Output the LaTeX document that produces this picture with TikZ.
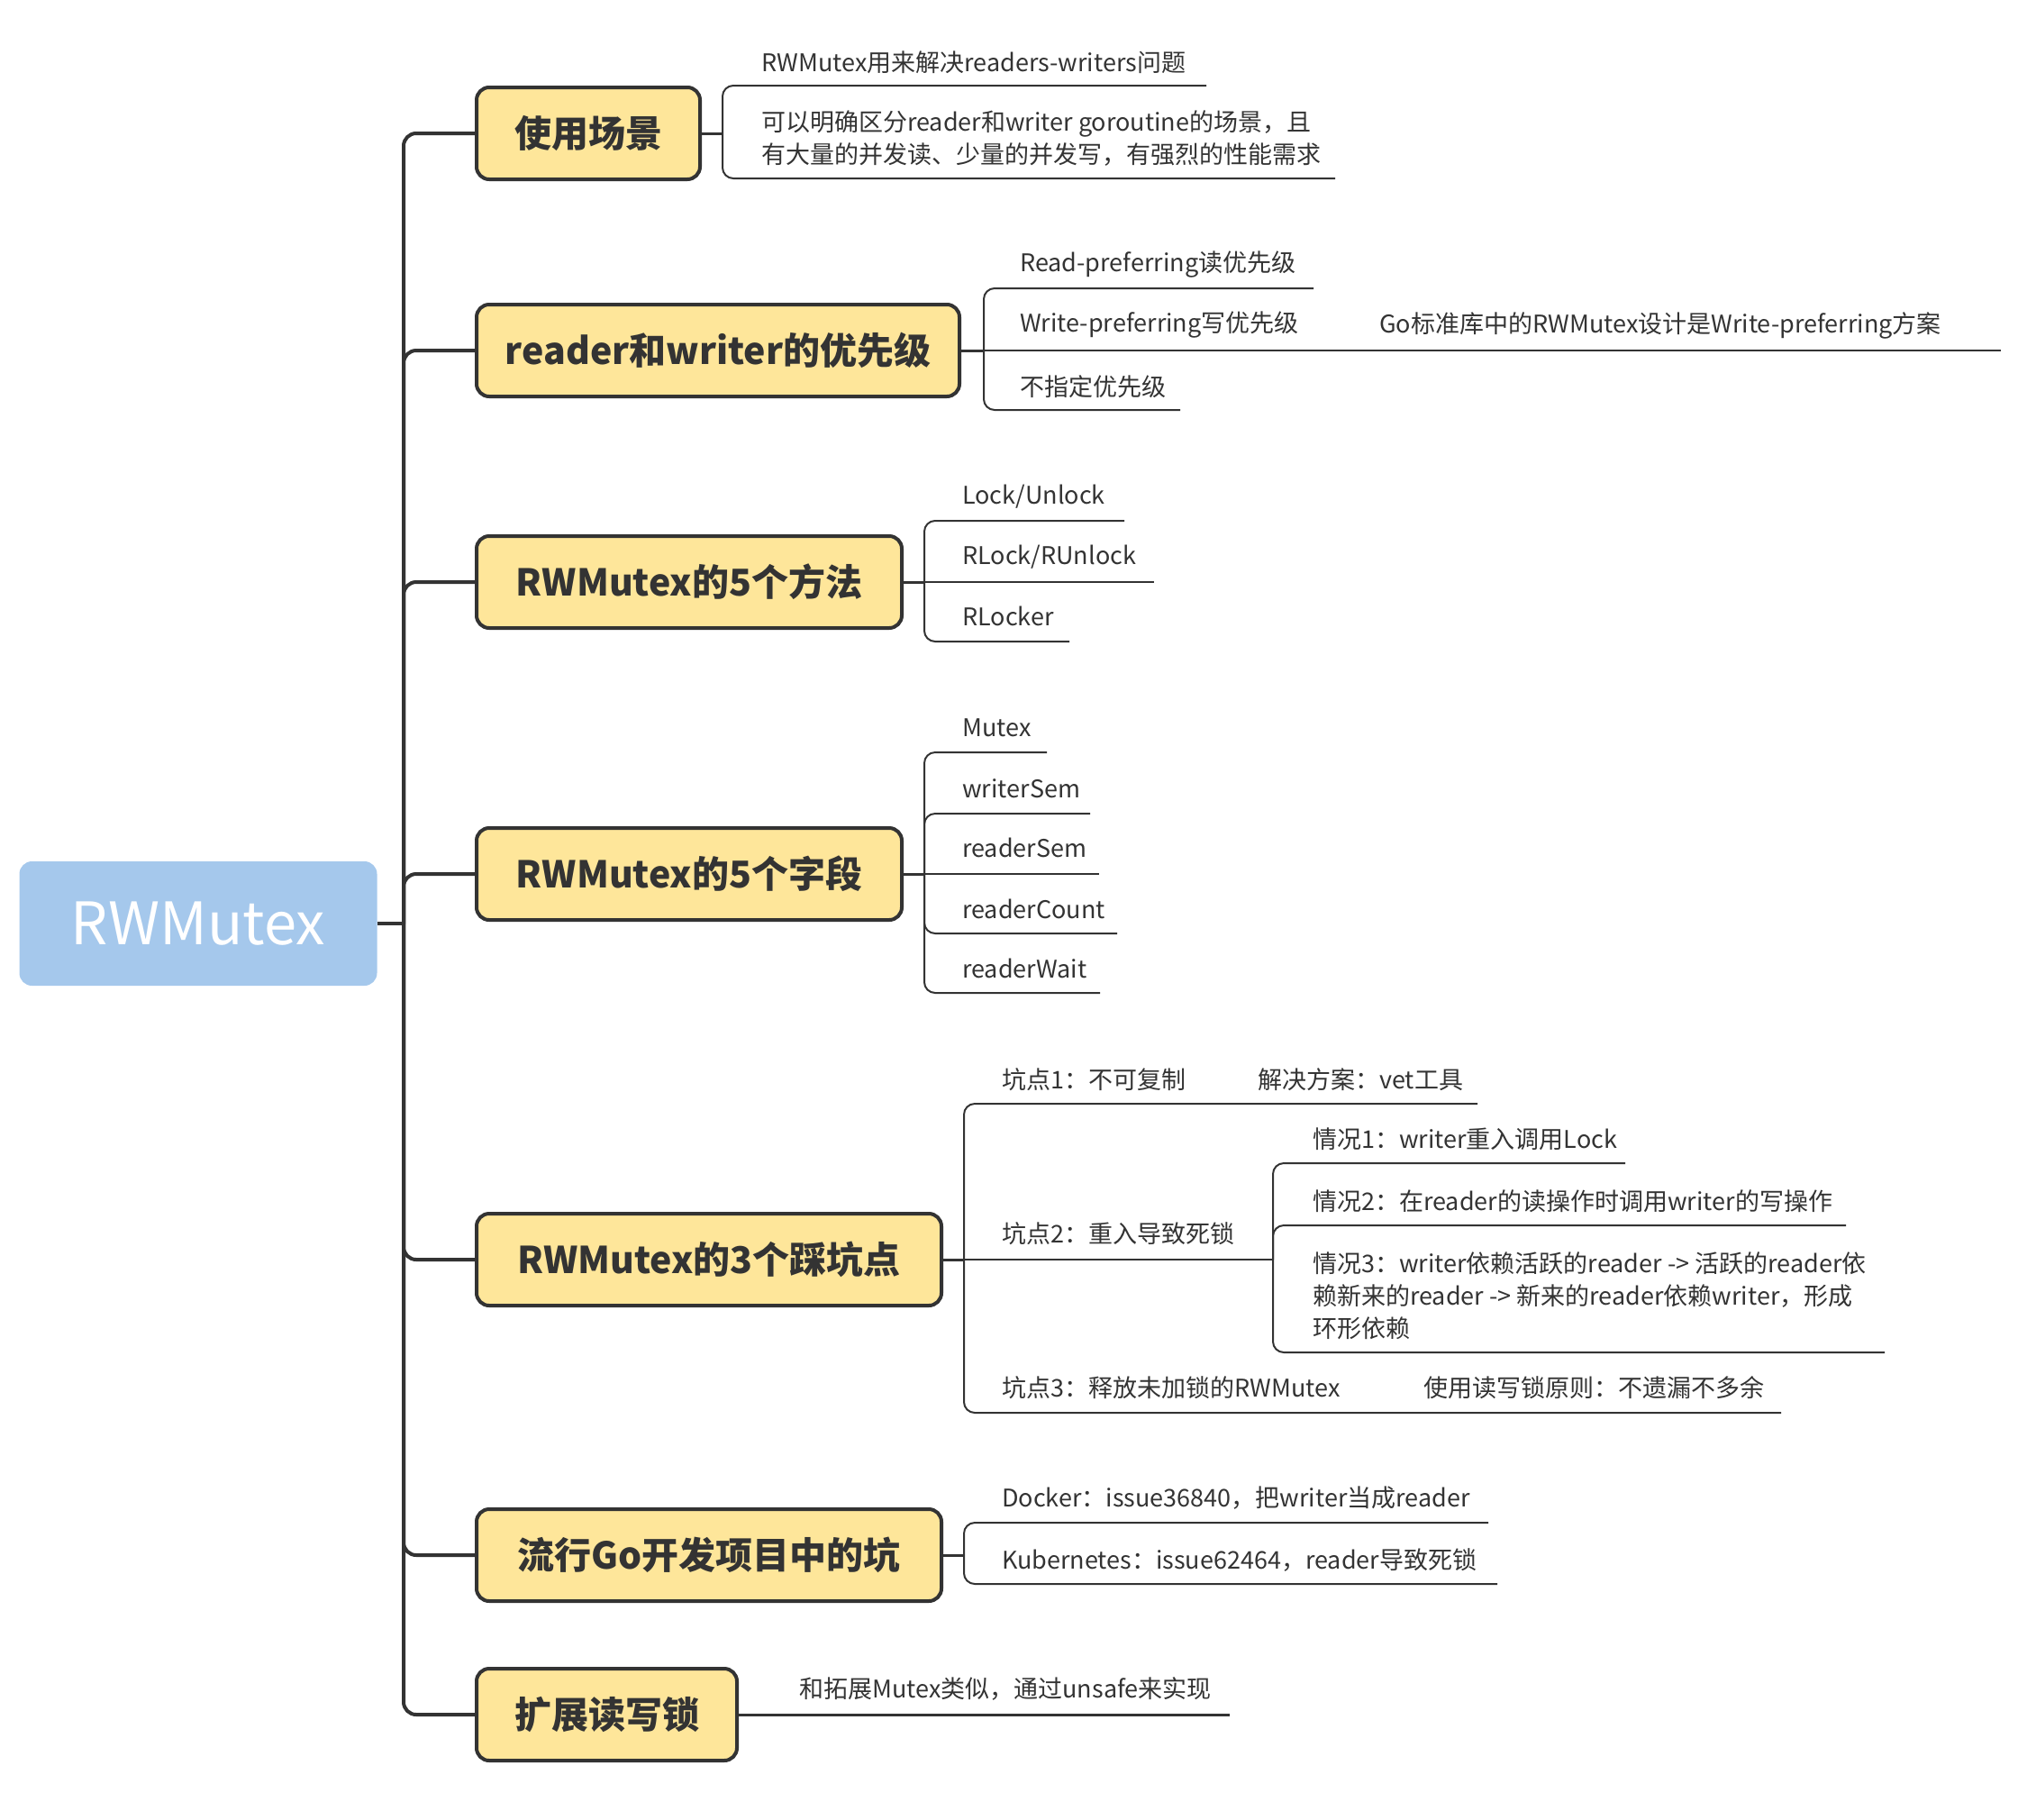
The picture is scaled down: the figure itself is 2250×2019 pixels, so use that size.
\documentclass[tikz,border=0pt]{standalone}
\usepackage{fontspec}
\setmainfont{Noto Sans CJK SC}
\definecolor{ink}{HTML}{333333}
\definecolor{yel}{HTML}{FEE69A}
\definecolor{blu}{HTML}{A5C8EC}
\begin{document}
\begin{tikzpicture}[x=1pt,y=-1pt,
 mainbox/.style={draw=ink, line width=4pt, fill=yel, rounded corners=14pt, minimum height=102pt, inner xsep=20pt, anchor=west, text=ink, font=\fontsize{41}{50}\selectfont\bfseries},
 leaf/.style={anchor=west, inner sep=0pt, text=ink, font=\fontsize{27}{36}\selectfont},
 mleaf/.style={leaf, align=left},
 trunk/.style={draw=ink, line width=4pt, rounded corners=14pt},
 stem/.style={draw=ink, line width=3pt},
 twig/.style={draw=ink, line width=2pt, rounded corners=12pt}]
\useasboundingbox (0,0) rectangle (2250,2019);

% root
\node[fill=blu, rounded corners=14pt, minimum width=397pt, minimum height=138pt, text=white, font=\fontsize{65}{80}\selectfont] (root) at (220,1025) {RWMutex};

% main nodes
\node[mainbox, minimum width=248pt] (m1) at (527,148) {使用场景};
\node[mainbox, minimum width=536pt] (m2) at (527,389) {reader和writer的优先级};
\node[mainbox, minimum width=472pt] (m3) at (527,646) {RWMutex的5个方法};
\node[mainbox, minimum width=472pt] (m4) at (527,970) {RWMutex的5个字段};
\node[mainbox, minimum width=516pt] (m5) at (527,1398) {RWMutex的3个踩坑点};
\node[mainbox, minimum width=516pt] (m6) at (527,1726) {流行Go开发项目中的坑};
\node[mainbox, minimum width=289pt] (m7) at (527,1903) {扩展读写锁};

% trunk
\coordinate (t0) at (448,1025);
\draw[trunk] (root.east) -- (t0);
\foreach \m in {m1,m2,m3,m4,m5,m6,m7} { \draw[trunk] (t0) |- (\m.west); }

% group 1
\coordinate (b1) at (802,148);
\coordinate (u1a) at (1339,95);
\coordinate (u1b) at (1482,198);
\draw[stem] (m1.east) -- (b1);
\draw[twig] (b1) |- (u1a);
\draw[twig] (b1) |- (u1b);
\node[leaf] (l1a) at (845,69) {RWMutex用来解决readers-writers问题};
\node[mleaf] (l1b) at (845,154) {可以明确区分reader和writer goroutine的场景，且\\有大量的并发读、少量的并发写，有强烈的性能需求};

% group 2
\coordinate (b2) at (1092,389);
\coordinate (u2a) at (1458,320);
\coordinate (u2b) at (2221,389);
\coordinate (u2c) at (1310,455);
\draw[stem] (m2.east) -- (b2);
\draw[twig] (b2) |- (u2a);
\draw[twig] (b2) -- (u2b);
\draw[twig] (b2) |- (u2c);
\node[leaf] (l2a) at (1132,294) {Read-preferring读优先级};
\node[leaf] (l2b) at (1132,361) {Write-preferring写优先级};
\node[leaf] (l2bb) at (1531,361) {Go标准库中的RWMutex设计是Write-preferring方案};
\node[leaf] (l2c) at (1132,429) {不指定优先级};

% group 3
\coordinate (b3) at (1026,646);
\coordinate (u3a) at (1248,578);
\coordinate (u3b) at (1281,646);
\coordinate (u3c) at (1187,712);
\draw[stem] (m3.east) -- (b3);
\draw[twig] (b3) |- (u3a);
\draw[twig] (b3) -- (u3b);
\draw[twig] (b3) |- (u3c);
\node[leaf] (l3a) at (1068,551) {Lock/Unlock};
\node[leaf] (l3b) at (1068,618) {RLock/RUnlock};
\node[leaf] (l3c) at (1068,684) {RLocker};

% group 4
\coordinate (b4) at (1026,970);
\coordinate (u4a) at (1162,835);
\coordinate (u4b) at (1210,903);
\coordinate (u4c) at (1220,970);
\coordinate (u4d) at (1240,1036);
\coordinate (u4e) at (1221,1102);
\draw[stem] (m4.east) -- (b4);
\draw[twig] (b4) |- (u4a);
\draw[twig] (b4) |- (u4b);
\draw[twig] (b4) -- (u4c);
\draw[twig] (b4) |- (u4d);
\draw[twig] (b4) |- (u4e);
\node[leaf] (l4a) at (1068,808) {Mutex};
\node[leaf] (l4b) at (1068,875) {writerSem};
\node[leaf] (l4c) at (1068,941) {readerSem};
\node[leaf] (l4d) at (1068,1009) {readerCount};
\node[leaf] (l4e) at (1068,1075) {readerWait};

% group 5
\coordinate (b5) at (1070,1398);
\coordinate (u5a) at (1640,1225);
\coordinate (b5b) at (1413,1398);
\coordinate (u5c) at (1977,1568);
\coordinate (u5b1) at (1804,1291);
\coordinate (u5b2) at (2049,1360);
\coordinate (u5b3) at (2092,1501);
\draw[stem] (m5.east) -- (b5);
\draw[twig] (b5) |- (u5a);
\draw[twig] (b5) -- (b5b);
\draw[twig] (b5) |- (u5c);
\draw[twig] (b5b) |- (u5b1);
\draw[twig] (b5b) |- (u5b2);
\draw[twig] (b5b) |- (u5b3);
\node[leaf] (l5a) at (1112,1198) {坑点1：不可复制};
\node[leaf] (l5aa) at (1396,1198) {解决方案：vet工具};
\node[leaf] (l5b) at (1112,1369) {坑点2：重入导致死锁};
\node[leaf] (l5b1) at (1457,1264) {情况1：writer重入调用Lock};
\node[leaf] (l5b2) at (1457,1333) {情况2：在reader的读操作时调用writer的写操作};
\node[mleaf] (l5b3) at (1457,1438) {情况3：writer依赖活跃的reader -> 活跃的reader依\\赖新来的reader -> 新来的reader依赖writer，形成\\环形依赖};
\node[leaf] (l5c) at (1112,1540) {坑点3：释放未加锁的RWMutex};
\node[leaf] (l5cc) at (1580,1540) {使用读写锁原则：不遗漏不多余};

% group 6
\coordinate (b6) at (1070,1726);
\coordinate (u6a) at (1652,1690);
\coordinate (u6b) at (1662,1758);
\draw[stem] (m6.east) -- (b6);
\draw[twig] (b6) |- (u6a);
\draw[twig] (b6) |- (u6b);
\node[leaf] (l6a) at (1112,1663) {Docker：issue36840，把writer当成reader};
\node[leaf] (l6b) at (1112,1731) {Kubernetes：issue62464，reader导致死锁};

% group 7
\coordinate (u7) at (1365,1903);
\draw[stem] (m7.east) -- (u7);
\node[leaf] (l7) at (887,1874) {和拓展Mutex类似，通过unsafe来实现};
\end{tikzpicture}
\end{document}
